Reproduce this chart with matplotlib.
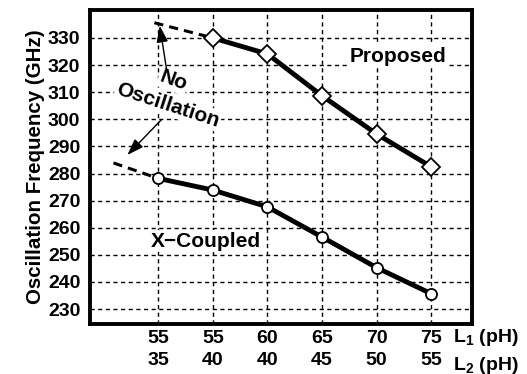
import matplotlib
matplotlib.use("Agg")
import matplotlib.pyplot as plt

plt.rcParams['font.family'] = ['Liberation Sans', 'DejaVu Sans']
plt.rcParams['font.weight'] = 'bold'
plt.rcParams['mathtext.fontset'] = 'custom'
plt.rcParams['mathtext.rm'] = 'Liberation Sans:bold'
plt.rcParams['mathtext.bf'] = 'Liberation Sans:bold'
plt.rcParams['mathtext.default'] = 'bf'

L1_labels = ["55", "55", "60", "65", "70", "75"]
L2_labels = ["35", "40", "40", "45", "50", "55"]
proposed = [None, 330.0, 324.1, 308.7, 294.6, 282.5]
xcoupled = [278.2, 273.9, 267.7, 256.6, 245.3, 235.7]
proposed_ext_y = [335.6, 330.0]
xcoupled_ext_y = [283.9, 278.2]
yticks = [230, 240, 250, 260, 270, 280, 290, 300, 310, 320, 330]

fig = plt.figure(figsize=(5.27, 3.74), dpi=100)
ax = fig.add_axes([90/527, 50/374, 382/527, 314/374])

idx = list(range(len(L1_labels)))

# grid
for y in yticks:
    ax.axhline(y, color='black', lw=1.0, ls=(0, (3, 2.5)), zorder=1)
for i in idx:
    ax.axvline(i, color='black', lw=1.0, ls=(0, (3, 2.5)), zorder=1)

# extensions (no oscillation region)
ax.plot([-0.07, 1], proposed_ext_y, color='black', lw=2.2, ls=(0, (3, 2)), zorder=3)
ax.plot([-0.82, 0], xcoupled_ext_y, color='black', lw=2.2, ls=(0, (3, 2)), zorder=3)

px = [i for i, v in zip(idx, proposed) if v is not None]
py = [v for v in proposed if v is not None]
ax.plot(px, py, color='black', lw=3.5, marker='D', ms=9, mfc='white',
        mec='black', mew=1.3, zorder=4)
ax.plot(idx, xcoupled, color='black', lw=3.5, marker='o', ms=8, mfc='white',
        mec='black', mew=1.3, zorder=4)

ax.set_xlim(-1.25, 5.75)
ax.set_ylim(224.5, 340.3)
ax.set_yticks(yticks)
ax.set_yticklabels([str(v) for v in yticks], fontsize=14, fontweight='bold')
ax.set_xticks(idx)
labs = ax.set_xticklabels([a + "\n" + b for a, b in zip(L1_labels, L2_labels)],
                          fontsize=14, fontweight='bold')
for t in labs:
    t.set_linespacing(1.4)
ax.tick_params(length=0)
ax.tick_params(axis='y', pad=7)
ax.tick_params(axis='x', pad=4)

for s in ax.spines.values():
    s.set_linewidth(2.8)

ax.set_ylabel("Oscillation Frequency (GHz)", fontsize=14.8, fontweight='bold', labelpad=2)

bb = dict(facecolor='white', edgecolor='none', pad=1)
ax.text(4.4, 323.3, "Proposed", fontsize=15, fontweight='bold', ha='center',
        va='center', bbox=bb, zorder=5)
ax.text(0.88, 255.0, "X\u2212Coupled", fontsize=15, fontweight='bold', ha='center',
        va='center', bbox=bb, zorder=5)
ax.text(0.28, 314.3, "No", fontsize=15, fontweight='bold', ha='center',
        va='center', rotation=-20, bbox=bb, zorder=5)
ax.text(0.18, 305.3, "Oscillation", fontsize=15, fontweight='bold', ha='center',
        va='center', rotation=-18, bbox=bb, zorder=5)

ap = dict(arrowstyle='-|>,head_length=1.0,head_width=0.35', color='black', lw=1.0)
ax.annotate("", xy=(0.02, 335.5), xytext=(0.16, 317.5), arrowprops=ap, zorder=6)
ax.annotate("", xy=(-0.60, 286.1), xytext=(0.09, 300.5), arrowprops=ap, zorder=6)

fig.text(453/527, 1 - 338/374, "L$_{1}$ (pH)", fontsize=14, fontweight='bold',
         ha='left', va='center')
fig.text(453/527, 1 - 365/374, "L$_{2}$ (pH)", fontsize=14, fontweight='bold',
         ha='left', va='center')

fig.savefig("out.png", dpi=100)
